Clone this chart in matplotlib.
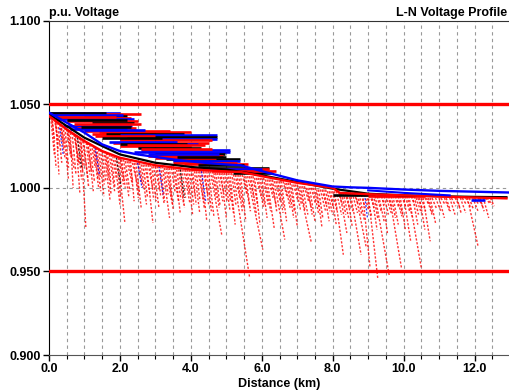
import matplotlib
matplotlib.use("Agg")
import matplotlib.pyplot as plt
from matplotlib.ticker import MultipleLocator, FormatStrFormatter

plt.rcParams['font.family'] = ['Liberation Sans', 'DejaVu Sans']

# ---- axis / limits ----
x_ticks = [0.0, 2.0, 4.0, 6.0, 8.0, 10.0, 12.0]
y_ticks = [0.900, 0.950, 1.000, 1.050, 1.100]
limit_levels = [1.050, 0.950]

# ---- main feeder trunks (distance km, p.u.) ----
blue_trunk_d = [0.0, 0.5, 1.0, 1.5, 2.0, 2.5, 3.0, 3.5, 4.0, 4.5, 5.0, 5.4, 6.0, 7.0, 8.0, 8.5, 9.0, 10.0, 11.0, 12.0, 13.0]
blue_trunk_v = [1.045, 1.039, 1.033, 1.026, 1.022, 1.020, 1.0185, 1.017, 1.0158, 1.0148, 1.014, 1.0135, 1.010, 1.0045, 1.0008, 1.0003, 1.0000, 0.9990, 0.9982, 0.9977, 0.9972]
red_trunk_d = [0.0, 0.5, 1.0, 1.5, 2.0, 3.0, 4.0, 5.0, 5.4, 6.0, 7.0, 8.0, 8.2, 9.0, 10.0, 11.0, 12.0, 12.9]
red_trunk_v = [1.043, 1.035, 1.028, 1.022, 1.018, 1.0135, 1.011, 1.0098, 1.0095, 1.007, 1.003, 1.0000, 0.9970, 0.9962, 0.9955, 0.9948, 0.9942, 0.9937]
black_trunk_d = [0.0, 1.0, 2.0, 3.0, 4.0, 5.0, 6.0, 7.0, 8.0, 9.0, 10.0, 11.0, 12.0, 12.9]
black_trunk_v = [1.044, 1.030, 1.020, 1.015, 1.0125, 1.011, 1.0075, 1.0035, 0.9995, 0.9965, 0.9955, 0.9950, 0.9946, 0.9944]
blue2_d = [9.0, 10.0, 11.3]
blue2_v = [0.9985, 0.9970, 0.9955]

# ---- primary laterals (solid, near-horizontal) ----
bar_x0 = [0.0, 0.0, 1.0, 0.3, 0.2, 0.5, 1.2, 0.4, 0.8, 0.6, 1.0, 1.5, 1.2, 1.4, 1.6,
          2.0, 2.2, 2.0, 2.0, 1.8, 2.3, 2.0, 2.5, 2.6, 2.4, 3.0, 2.8, 3.3, 3.5, 3.5, 4.0, 4.0, 4.5, 5.2, 11.9, 8.0, 9.0,
          0.0, 0.1, 0.2, 0.5, 0.7, 0.9, 1.0, 1.3, 1.5, 1.7, 2.0, 2.2, 2.6, 2.8, 3.0, 3.6, 3.8, 4.2, 4.6]
bar_x1 = [2.0, 2.6, 2.2, 2.3, 2.4, 2.5, 2.4, 2.35, 2.45, 2.2, 3.4, 2.5, 3.0, 4.0, 3.8,
          4.73, 4.73, 4.73, 4.6, 4.5, 4.2, 4.0, 4.3, 5.1, 5.1, 4.95, 4.9, 5.4, 5.4, 5.3, 6.2, 6.2, 6.0, 6.3, 12.3, 9.2, 10.6,
          1.6, 2.1, 1.9, 2.2, 2.6, 2.3, 2.7, 3.0, 3.2, 3.6, 3.9, 4.4, 4.6, 4.8, 4.7, 5.0, 5.6, 5.5, 6.4]
bar_v = [1.045, 1.044, 1.043, 1.042, 1.041, 1.040, 1.039, 1.037, 1.036, 1.035, 1.034, 1.033, 1.032, 1.0335, 1.0325,
         1.0315, 1.0305, 1.0295, 1.0285, 1.027, 1.026, 1.025, 1.024, 1.0225, 1.0215, 1.020, 1.019, 1.017, 1.016, 1.015, 1.012, 1.0115, 1.011, 1.009, 0.9930, 0.9960, 0.9950,
         1.0445, 1.0435, 1.0425, 1.0405, 1.038, 1.0365, 1.0345, 1.031, 1.030, 1.0275, 1.0265, 1.0255, 1.0235, 1.0205, 1.018, 1.0185, 1.0145, 1.0135, 1.010]
bar_c = ['blue', 'red', 'black', 'red', 'blue', 'red', 'black', 'blue', 'red', 'blue', 'red', 'black', 'red', 'red', 'black',
         'blue', 'black', 'blue', 'red', 'red', 'blue', 'red', 'black', 'blue', 'blue', 'black', 'red', 'black', 'blue', 'red', 'black', 'red', 'blue', 'black', 'blue', 'black', 'red',
         'black', 'blue', 'red', 'black', 'red', 'black', 'blue', 'red', 'black', 'blue', 'black', 'red', 'red', 'blue', 'red', 'black', 'red', 'black', 'red']

# ---- secondary drops (dashed): start (x0, v0) -> end (x1, v1) ----
drop_x0 = [0.05, 0.10, 0.15, 0.20, 0.30, 0.35, 0.40, 0.50, 0.55, 0.60, 0.70, 0.75, 0.85, 0.90, 0.95,
           1.05, 1.10, 1.20, 1.25, 1.35, 1.40, 1.50, 1.55, 1.65, 1.70, 1.80, 1.85, 1.95,
           2.05, 2.10, 2.20, 2.30, 2.35, 2.45, 2.55, 2.60, 2.70, 2.75, 2.85, 2.95,
           3.05, 3.10, 3.20, 3.30, 3.40, 3.50, 3.55, 3.65, 3.75, 3.80, 3.90,
           4.05, 4.10, 4.20, 4.30, 4.40, 4.50, 4.55, 4.65, 4.75, 4.85, 4.95,
           5.05, 5.10, 5.20, 5.30, 5.40, 5.50, 5.60, 5.70, 5.80, 5.90,
           6.00, 6.10, 6.15, 6.25, 6.35, 6.45, 6.55, 6.65, 6.75, 6.85, 6.95,
           7.05, 7.15, 7.25, 7.35, 7.45, 7.55, 7.65, 7.75, 7.85, 7.95,
           8.05, 8.10, 8.20, 8.30, 8.40, 8.50, 8.55, 8.65, 8.75, 8.85, 8.95,
           9.00, 9.10, 9.20, 9.30, 9.40, 9.50, 9.60, 9.70, 9.80, 9.90,
           10.00, 10.10, 10.15, 10.25, 10.35, 10.45, 10.55, 10.65, 10.75, 10.90,
           11.00, 11.15, 11.30, 11.45, 11.60, 11.75, 11.80, 11.95, 12.10, 12.25, 12.35]
drop_v0 = [1.042, 1.040, 1.041, 1.039, 1.038, 1.036, 1.037, 1.035, 1.034, 1.033, 1.032, 1.031, 1.030, 1.029, 1.028,
           1.027, 1.027, 1.026, 1.025, 1.024, 1.023, 1.022, 1.022, 1.021, 1.020, 1.019, 1.019, 1.018,
           1.017, 1.017, 1.016, 1.016, 1.015, 1.015, 1.015, 1.014, 1.014, 1.014, 1.014, 1.013,
           1.013, 1.013, 1.013, 1.012, 1.012, 1.012, 1.012, 1.011, 1.011, 1.011, 1.011,
           1.011, 1.010, 1.010, 1.010, 1.010, 1.010, 1.010, 1.009, 1.009, 1.009, 1.009,
           1.009, 1.009, 1.008, 1.008, 1.008, 1.007, 1.007, 1.007, 1.006, 1.006,
           1.006, 1.005, 1.005, 1.005, 1.004, 1.004, 1.004, 1.003, 1.003, 1.002, 1.002,
           1.001, 1.001, 1.000, 1.000, 1.000, 0.999, 0.999, 0.999, 0.998, 0.998,
           0.998, 0.998, 0.997, 0.997, 0.997, 0.997, 0.997, 0.996, 0.996, 0.996, 0.996,
           0.996, 0.996, 0.995, 0.995, 0.995, 0.995, 0.995, 0.995, 0.995, 0.995,
           0.995, 0.995, 0.995, 0.995, 0.994, 0.994, 0.994, 0.994, 0.994, 0.994,
           0.994, 0.994, 0.994, 0.994, 0.994, 0.994, 0.994, 0.994, 0.994, 0.994, 0.994]
drop_x1 = [0.15, 0.20, 0.30, 0.28, 0.45, 0.42, 0.55, 0.60, 0.70, 0.68, 0.85, 0.87, 0.95, 1.04, 1.10,
           1.15, 1.25, 1.30, 1.40, 1.45, 1.55, 1.60, 1.72, 1.75, 1.85, 1.90, 2.00, 2.14,
           2.15, 2.25, 2.35, 2.40, 2.55, 2.60, 2.65, 2.75, 2.85, 2.93, 2.95, 3.10,
           3.15, 3.25, 3.40, 3.45, 3.50, 3.65, 3.70, 3.80, 3.85, 3.97, 4.05,
           4.15, 4.25, 4.35, 4.45, 4.50, 4.65, 4.87, 4.80, 4.90, 5.00, 5.10,
           5.20, 5.25, 5.66, 5.45, 5.55, 5.65, 6.03, 5.85, 5.95, 6.05,
           6.15, 6.25, 6.35, 6.40, 6.65, 6.60, 6.70, 6.80, 6.90, 7.00, 7.10,
           7.40, 7.30, 7.40, 7.50, 7.60, 7.70, 7.80, 7.90, 8.00, 8.10,
           8.30, 8.25, 8.40, 8.45, 8.55, 8.80, 8.70, 8.95, 8.90, 9.05, 9.10,
           9.27, 9.25, 9.60, 9.45, 9.55, 9.65, 9.94, 9.85, 9.95, 10.05,
           10.20, 10.25, 10.50, 10.40, 10.50, 10.60, 10.75, 10.80, 10.90, 11.05,
           11.15, 11.30, 11.45, 11.60, 11.75, 11.90, 12.10, 12.10, 12.25, 12.40, 12.50]
drop_v1 = [1.020, 1.012, 1.025, 1.008, 1.018, 1.028, 1.005, 1.020, 1.012, 1.000, 1.015, 0.997, 1.010, 0.976, 1.005,
           1.008, 0.998, 1.012, 1.000, 1.006, 0.995, 1.004, 0.993, 1.002, 0.998, 1.005, 0.990, 0.979,
           1.000, 0.995, 1.002, 0.992, 0.997, 0.988, 1.000, 0.990, 0.996, 0.979, 0.993, 0.988,
           0.995, 0.990, 0.982, 0.993, 0.987, 0.992, 0.985, 0.990, 0.994, 0.991, 0.984,
           0.990, 0.985, 0.993, 0.980, 0.990, 0.983, 0.972, 0.988, 0.992, 0.982, 0.987,
           0.985, 0.978, 0.946, 0.986, 0.980, 0.990, 0.963, 0.984, 0.978, 0.988,
           0.982, 0.986, 0.976, 0.990, 0.969, 0.985, 0.980, 0.988, 0.982, 0.977, 0.986,
           0.967, 0.984, 0.988, 0.980, 0.985, 0.976, 0.986, 0.980, 0.984, 0.978,
           0.960, 0.984, 0.973, 0.982, 0.977, 0.960, 0.985, 0.964, 0.980, 0.953, 0.983,
           0.946, 0.975, 0.947, 0.980, 0.972, 0.985, 0.952, 0.978, 0.983, 0.975,
           0.968, 0.982, 0.952, 0.978, 0.985, 0.975, 0.968, 0.984, 0.979, 0.986,
           0.982, 0.986, 0.984, 0.988, 0.985, 0.988, 0.965, 0.986, 0.988, 0.982, 0.990]

# ---- short secondaries filling the upper cloud ----
fill_x0 = [0.08, 0.18, 0.25, 0.33, 0.45, 0.52, 0.65, 0.72, 0.80, 0.88, 0.98,
           1.08, 1.15, 1.28, 1.32, 1.45, 1.58, 1.62, 1.75, 1.90, 1.98,
           2.02, 2.15, 2.25, 2.40, 2.50, 2.65, 2.80, 2.90,
           3.00, 3.15, 3.25, 3.35, 3.45, 3.60, 3.70, 3.85, 3.95,
           4.00, 4.15, 4.25, 4.35, 4.45, 4.60, 4.70, 4.80, 4.90,
           5.00, 5.15, 5.25, 5.35, 5.45, 5.55, 5.65, 5.75, 5.85, 5.95,
           6.05, 6.20, 6.30, 6.40, 6.50, 6.60, 6.70, 6.80, 6.90,
           7.00, 7.10, 7.20, 7.30, 7.40, 7.50, 7.60, 7.70, 7.80, 7.90,
           8.00, 8.15, 8.25, 8.35, 8.45, 8.60, 8.70, 8.80, 8.90, 9.05, 9.15, 9.25, 9.35, 9.45, 9.55, 9.65, 9.75, 9.85, 9.95,
           10.05, 10.20, 10.30, 10.40, 10.50, 10.60, 10.70, 10.80, 11.05, 11.20, 11.35, 11.50, 11.65, 11.85, 12.00, 12.15, 12.30, 12.45]
fill_v0 = [1.041, 1.040, 1.039, 1.038, 1.036, 1.035, 1.033, 1.032, 1.031, 1.030, 1.028,
           1.027, 1.026, 1.025, 1.024, 1.023, 1.022, 1.021, 1.020, 1.019, 1.018,
           1.017, 1.016, 1.016, 1.015, 1.015, 1.014, 1.014, 1.013,
           1.013, 1.013, 1.012, 1.012, 1.012, 1.011, 1.011, 1.011, 1.011,
           1.011, 1.010, 1.010, 1.010, 1.010, 1.010, 1.009, 1.009, 1.009,
           1.009, 1.009, 1.008, 1.008, 1.008, 1.007, 1.007, 1.007, 1.006, 1.006,
           1.006, 1.005, 1.005, 1.004, 1.004, 1.004, 1.003, 1.003, 1.002,
           1.002, 1.001, 1.001, 1.000, 1.000, 1.000, 0.999, 0.999, 0.999, 0.998,
           0.998, 0.998, 0.997, 0.997, 0.997, 0.997, 0.996, 0.996, 0.996, 0.996, 0.996, 0.995, 0.995, 0.995, 0.995, 0.995, 0.995, 0.995, 0.995,
           0.995, 0.995, 0.995, 0.994, 0.994, 0.994, 0.994, 0.994, 0.994, 0.994, 0.994, 0.994, 0.994, 0.994, 0.994, 0.994, 0.994, 0.994]
fill_x1 = [0.16, 0.26, 0.36, 0.43, 0.55, 0.63, 0.76, 0.84, 0.92, 1.00, 1.12,
           1.20, 1.28, 1.38, 1.46, 1.56, 1.68, 1.75, 1.86, 2.02, 2.10,
           2.12, 2.28, 2.36, 2.52, 2.62, 2.78, 2.92, 3.02,
           3.12, 3.26, 3.36, 3.48, 3.56, 3.72, 3.82, 3.96, 4.08,
           4.12, 4.26, 4.38, 4.48, 4.58, 4.72, 4.82, 4.94, 5.02,
           5.12, 5.27, 5.38, 5.48, 5.58, 5.68, 5.78, 5.88, 5.98, 6.08,
           6.18, 6.32, 6.42, 6.52, 6.62, 6.72, 6.82, 6.92, 7.02,
           7.12, 7.22, 7.32, 7.42, 7.52, 7.62, 7.72, 7.82, 7.92, 8.02,
           8.12, 8.27, 8.37, 8.47, 8.57, 8.72, 8.82, 8.92, 9.02, 9.17, 9.27, 9.37, 9.47, 9.57, 9.67, 9.77, 9.87, 9.97, 10.07,
           10.17, 10.32, 10.42, 10.52, 10.62, 10.72, 10.82, 10.92, 11.17, 11.32, 11.47, 11.62, 11.77, 11.97, 12.12, 12.27, 12.42, 12.55]
fill_v1 = [1.028, 1.022, 1.015, 1.024, 1.012, 1.018, 1.008, 1.014, 1.005, 1.012, 1.000,
           1.010, 1.004, 1.006, 0.998, 1.002, 1.006, 0.996, 1.000, 0.994, 1.002,
           1.004, 0.998, 1.004, 0.994, 1.002, 0.994, 1.000, 0.992,
           0.998, 0.992, 0.996, 0.990, 0.997, 0.993, 0.988, 0.996, 0.990,
           0.995, 0.992, 0.988, 0.996, 0.986, 0.994, 0.990, 0.996, 0.992,
           0.992, 0.990, 0.994, 0.988, 0.996, 0.986, 0.994, 0.990, 0.995, 0.990,
           0.990, 0.994, 0.986, 0.992, 0.988, 0.994, 0.990, 0.986, 0.992,
           0.990, 0.986, 0.992, 0.984, 0.990, 0.988, 0.982, 0.990, 0.986, 0.988,
           0.986, 0.990, 0.984, 0.988, 0.986, 0.990, 0.984, 0.988, 0.986, 0.988, 0.982, 0.986, 0.990, 0.984, 0.988, 0.982, 0.988, 0.984, 0.988,
           0.986, 0.990, 0.984, 0.988, 0.986, 0.990, 0.984, 0.988, 0.990, 0.986, 0.989, 0.985, 0.990, 0.987, 0.990, 0.986, 0.991, 0.989]

# a few other-phase secondaries inside the cloud
other_x0 = [0.30, 0.80, 1.30, 1.90, 2.50, 3.10, 3.70, 4.30, 8.90]
other_v0 = [1.036, 1.030, 1.024, 1.018, 1.015, 1.013, 1.011, 1.010, 0.996]
other_x1 = [0.40, 0.92, 1.42, 2.02, 2.62, 3.22, 3.82, 4.42, 8.98]
other_v1 = [1.020, 1.012, 1.008, 1.002, 1.000, 0.996, 0.994, 0.992, 0.982]
other_c = ['blue', 'black', 'blue', 'black', 'blue', 'blue', 'black', 'blue', 'blue']

fig = plt.figure(figsize=(5.10, 3.92), dpi=100)
ax = fig.add_axes([49 / 510, 37 / 392, 1 - 49 / 510, (355 - 20.7) / 392])

# grid
for xv in [i * 0.5 for i in range(1, 26)]:
    ax.axvline(xv, color='#999999', lw=0.8, ls=(0, (3, 3)), zorder=0)
ax.axhline(1.000, color='#999999', lw=0.8, ls=(0, (3, 3)), zorder=0)

# secondaries
dash = (0, (1.6, 1.2))
for x0, v0, x1, v1 in zip(fill_x0, fill_v0, fill_x1, fill_v1):
    ax.plot([x0, x1], [v0, v1], color='red', lw=1.1, ls=dash, alpha=0.8, zorder=1)
for x0, v0, x1, v1 in zip(drop_x0, drop_v0, drop_x1, drop_v1):
    ax.plot([x0, x1], [v0, v1], color='red', lw=1.0, ls=dash, alpha=0.8, zorder=1)
for x0, v0, x1, v1, c in zip(other_x0, other_v0, other_x1, other_v1, other_c):
    ax.plot([x0, x1], [v0, v1], color=c, lw=0.9, ls=dash, alpha=0.8, zorder=1)

# primaries
for x0, x1, v, c in zip(bar_x0, bar_x1, bar_v, bar_c):
    ax.plot([x0, x1], [v, v], color=c, lw=1.9, solid_capstyle='butt', zorder=2)
ax.plot(black_trunk_d, black_trunk_v, color='black', lw=1.6, zorder=3)
ax.plot(red_trunk_d, red_trunk_v, color='red', lw=1.7, zorder=3)
ax.plot(blue_trunk_d, blue_trunk_v, color='blue', lw=1.7, zorder=4)
ax.plot(blue2_d, blue2_v, color='blue', lw=1.5, zorder=4)

for lv in limit_levels:
    ax.axhline(lv, color='red', lw=2.4, zorder=5)

ax.set_xlim(0, 13.0)
ax.set_ylim(0.900, 1.100)
ax.set_xticks(x_ticks)
ax.xaxis.set_minor_locator(MultipleLocator(0.5))
ax.set_yticks(y_ticks)
ax.xaxis.set_major_formatter(FormatStrFormatter('%.1f'))
ax.yaxis.set_major_formatter(FormatStrFormatter('%.3f'))
ax.tick_params(axis='both', which='major', direction='out', length=4, width=1, labelsize=9, pad=2)
ax.tick_params(axis='x', which='minor', direction='out', length=3, width=0.8)
for lab in ax.get_xticklabels() + ax.get_yticklabels():
    lab.set_fontweight('bold')
ax.spines['right'].set_visible(False)
ax.spines['left'].set_color('black')
ax.spines['top'].set_color('#333333')
ax.spines['bottom'].set_color('#555555')
ax.set_xlabel('Distance (km)', fontsize=9, fontweight='bold', labelpad=2)

fig.text(49 / 510, 1 - 16 / 392, 'p.u. Voltage', fontsize=9, fontweight='bold', ha='left', va='baseline')
fig.text(507 / 510, 1 - 16 / 392, 'L-N Voltage Profile', fontsize=9, fontweight='bold', ha='right', va='baseline')

fig.savefig('out.png', dpi=100)
